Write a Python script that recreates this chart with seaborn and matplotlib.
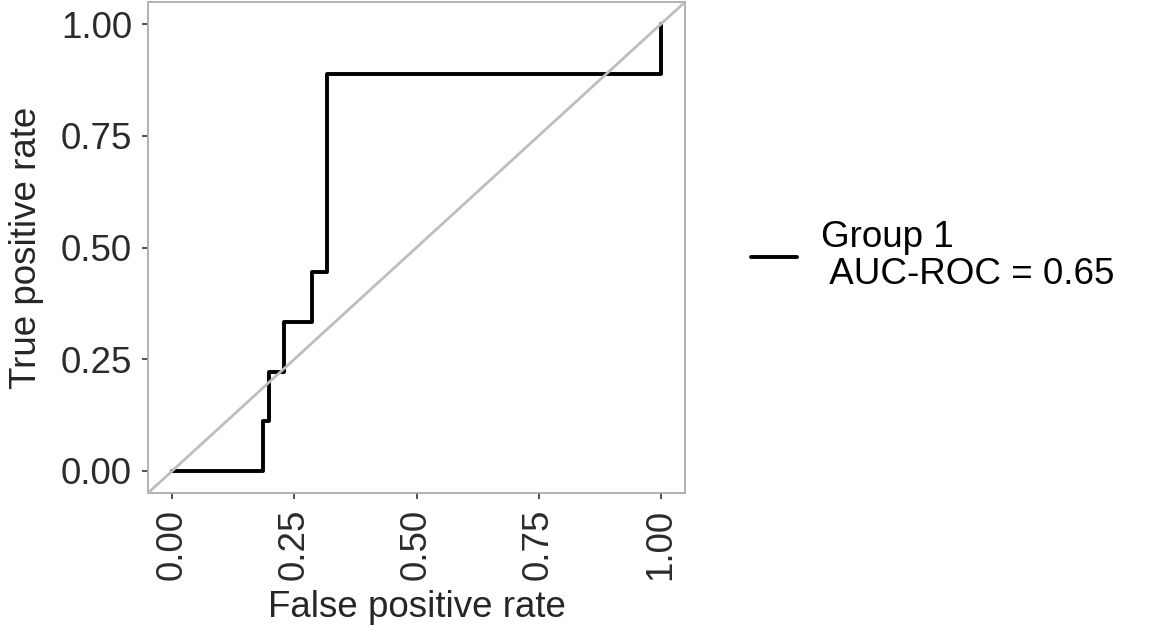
import matplotlib
matplotlib.use("Agg")
import matplotlib.pyplot as plt
import seaborn as sns
import pandas as pd

# ROC curve for Group 1 (step points)
fpr = [0.0, 0.186, 0.186, 0.198, 0.198, 0.229, 0.229, 0.285, 0.285, 0.317, 0.317, 1.0, 1.0]
tpr = [0.0, 0.0, 0.111, 0.111, 0.222, 0.222, 0.333, 0.333, 0.444, 0.444, 0.889, 0.889, 1.0]
group_label = "Group 1\n AUC-ROC = 0.65"
ticks = [0.0, 0.25, 0.5, 0.75, 1.0]
tick_labels = ["0.00", "0.25", "0.50", "0.75", "1.00"]

sns.set_style("white")
plt.rcParams["font.family"] = ["Liberation Sans", "DejaVu Sans"]

df = pd.DataFrame({"fpr": fpr, "tpr": tpr})

fig = plt.figure(figsize=(11.57, 6.32), dpi=100)
ax = fig.add_axes([148 / 1157, 1 - 493 / 632, 537 / 1157, 491 / 632])

sns.lineplot(data=df, x="fpr", y="tpr", sort=False, estimator=None,
             color="black", lw=2.8, label=group_label, ax=ax, zorder=2)
ax.axline((0, 0), slope=1, color="#bebebe", lw=2, zorder=3)

fs = 26.5
ax.set_xlim(-0.05, 1.05)
ax.set_ylim(-0.05, 1.05)
ax.set_xticks(ticks)
ax.set_xticklabels(tick_labels, rotation=90)
ax.set_yticks(ticks)
ax.set_yticklabels(tick_labels)
ax.tick_params(axis="both", length=4.5, width=1.2, color="#333333",
               labelsize=fs, labelcolor="#2b2b2b", pad=7, direction="out",
               bottom=True, left=True)
for s in ax.spines.values():
    s.set_color("#ababab")
    s.set_linewidth(1.3)

ax.set_xlabel("False positive rate", fontsize=fs, labelpad=7)
ax.set_ylabel("True positive rate", fontsize=fs, labelpad=12)

ax.get_legend().remove()
handles, labels = ax.get_legend_handles_labels()
leg = fig.legend(handles, labels, loc="center left",
                 bbox_to_anchor=(736 / 1157, 1 - 256 / 632),
                 frameon=False, fontsize=fs, handlelength=1.25,
                 handletextpad=0.65, borderaxespad=0)
for t in leg.get_texts():
    t.set_linespacing(1.1)
    t.set_color("black")

fig.savefig("out.png", dpi=100)
